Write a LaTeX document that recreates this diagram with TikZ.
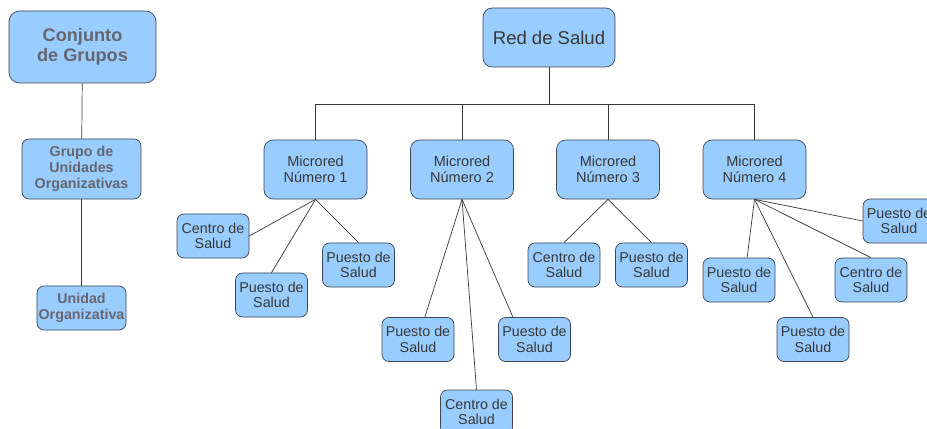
\documentclass[tikz,border=0pt]{standalone}
\usepackage{fontspec}
\setmainfont{Liberation Sans}
\usetikzlibrary{positioning}

\definecolor{boxfill}{HTML}{99CCFF}
\definecolor{boxline}{HTML}{3C4652}
\definecolor{textdark}{HTML}{383838}
\definecolor{textgray}{HTML}{666670}

\begin{document}
\begin{tikzpicture}[x=0.03cm, y=-0.03cm,
  box/.style={draw=boxline, fill=boxfill, rounded corners=6pt, line width=0.6pt,
    align=center, text=textdark, inner sep=1pt},
  small/.style={box, minimum width=2.16cm, minimum height=1.32cm,
    font=\fontsize{12.2}{13.4}\selectfont},
  micro/.style={box, minimum width=3.09cm, minimum height=1.77cm, rounded corners=8pt,
    font=\fontsize{12.4}{13.7}\selectfont},
  group/.style={box, text=textgray, font=\bfseries\fontsize{12.2}{13.4}\selectfont},
  link/.style={draw=textdark, line width=0.6pt}]

\useasboundingbox (0,0) rectangle (927,429);

% Left column
\node[group, minimum width=4.41cm, minimum height=2.16cm, rounded corners=9pt,
  font=\bfseries\fontsize{15.5}{17}\selectfont] (conj) at (82.5,47) {Conjunto\\de Grupos};
\node[group, minimum width=3.57cm, minimum height=1.8cm] (grupo) at (81.5,169) {Grupo de\\Unidades\\Organizativas};
\node[group, minimum width=2.67cm, minimum height=1.32cm, inner sep=0pt] (unidad) at (81.5,308) {Unidad\\Organizativa};

\draw[link] (conj) -- (grupo);
\draw[link] (grupo) -- (unidad);

% Root
\node[micro, minimum width=3.96cm, font=\fontsize{15.8}{17}\selectfont] (red) at (549,37.5) {Red de Salud};

% Microredes
\node[micro] (micro1) at (315.5,169.5) {Microred\\Número 1};
\node[micro] (micro2) at (462,169.5) {Microred\\Número 2};
\node[micro] (micro3) at (608,169.5) {Microred\\Número 3};
\node[micro] (micro4) at (754.5,169.5) {Microred\\Número 4};

% Bus
\coordinate (bus) at (549,104);
\draw[link] (red) -- (bus);
\draw[link] (micro1.north) -- (micro1.north |- bus) -- (micro4.north |- bus) -- (micro4.north);
\draw[link] (micro2.north) -- (micro2.north |- bus);
\draw[link] (micro3.north) -- (micro3.north |- bus);

% Microred 1
\node[small] (centro11) at (213,236) {Centro de\\Salud};
\node[small] (puesto12) at (271.5,295) {Puesto de\\Salud};
\node[small] (puesto13) at (358.5,265) {Puesto de\\Salud};
\draw[link] (micro1.south) -- (centro11.east);
\draw[link] (micro1.south) -- (puesto12.north);
\draw[link] (micro1.south) -- (puesto13.north);

% Microred 2
\node[small] (puesto21) at (418,339.5) {Puesto de\\Salud};
\node[small] (centro22) at (476.5,412) {Centro de\\Salud};
\node[small] (puesto23) at (534.5,339.5) {Puesto de\\Salud};
\draw[link] (micro2.south) -- (puesto21.73);
\draw[link] (micro2.south) -- (centro22.north);
\draw[link] (micro2.south) -- (puesto23.134);

% Microred 3
\node[small] (centro31) at (564,265) {Centro de\\Salud};
\node[small] (puesto32) at (651.5,265) {Puesto de\\Salud};
\draw[link] (micro3.south) -- (centro31.north);
\draw[link] (micro3.south) -- (puesto32.north);

% Microred 4
\node[small] (puesto41) at (739,280) {Puesto de\\Salud};
\node[small] (puesto42) at (813,339.5) {Puesto de\\Salud};
\node[small] (centro43) at (871,280) {Centro de\\Salud};
\node[small] (puesto44) at (899,221) {Puesto de\\Salud};
\draw[link] (micro4.south) -- (puesto41.70);
\draw[link] (micro4.south) -- (puesto42.north);
\draw[link] (micro4.south) -- (centro43.north);
\draw[link] (micro4.south) -- (puesto44.west);

\end{tikzpicture}
\end{document}
